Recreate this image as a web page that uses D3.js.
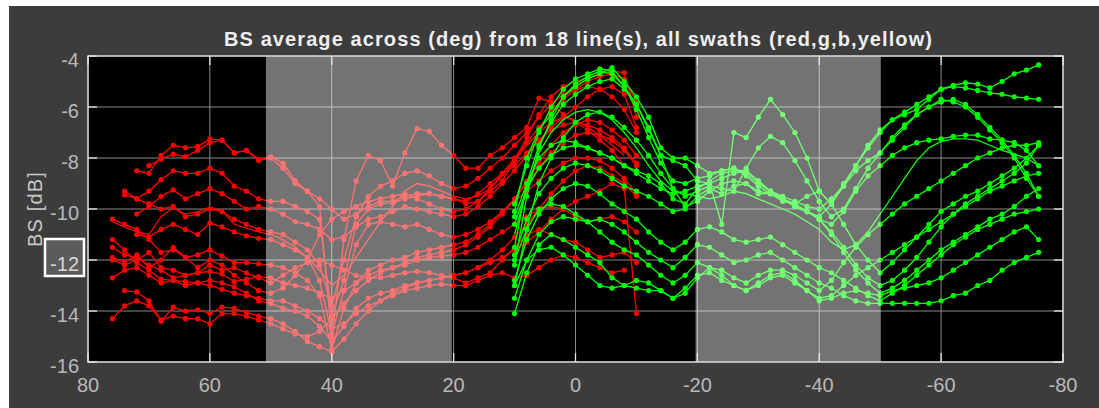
<!DOCTYPE html>
<html>
<head>
<meta charset="utf-8">
<script src="https://cdn.jsdelivr.net/npm/d3@7"></script>
<style>
  body { margin: 0; background: #ffffff; }
  text { font-family: "Liberation Sans", Arial, sans-serif; }
</style>
</head>
<body>
<script>
"use strict";

// across-track angles (deg) of the binned points, port swath (red) and starboard swath (green)
var redAngles = [76, 74, 72, 70, 68, 66, 64, 62, 60, 58, 56, 54, 52,
  50, 48, 46, 44, 42, 40, 38, 36, 34, 32, 30, 28, 26, 24, 22,
  20, 18, 16, 14, 12, 10, 8, 6, 4, 2, 0, -2, -4, -6, -8, -10];
var greenAngles = [10, 8, 6, 4, 2, 0, -2, -4, -6, -8, -10, -12, -14, -16, -18,
  -20, -22, -24, -26, -28, -30, -32, -34, -36, -38, -40, -42, -44, -46, -48,
  -50, -52, -54, -56, -58, -60, -62, -64, -66, -68, -70, -72, -74, -76];

// BS average per line (dB), one row per survey line
var redBS = [
  [null, null, -8.5, -8.6, -7.9, -7.5, -7.6, -7.55, -7.25, -7.3, -7.8, -7.7, -8.1,
   -8.0, -8.4, -9.0, -9.3, -9.9, -15.0, -11.2, -8.9, -7.9, -8.1, -9.1, -7.8, -6.85, -6.95, -7.5,
   -7.9, -8.4, -8.4, -7.9, -7.6, -7.2, -6.8, -5.65, -5.8, -6.3, -6.6, -6.9, -7.3, -7.7, -8.3, null],
  [null, null, null, -8.3, -8.05, -7.85, -7.95, -7.7, -7.4, -7.3, -7.8, -7.7, -8.05,
   -7.95, -8.2, -8.9, -9.3, -9.6, -10.0, -10.4, -10.2, -9.9, -9.7, -9.7, -9.5, -9.4, -9.4, -9.5,
   -9.6, -9.8, -9.7, -9.3, -8.9, -8.1, -7.2, -6.3, -5.6, -5.2, -5.0, -4.85, -4.7, -4.6, -4.65, -6.4],
  [null, -9.45, -9.6, -9.3, -8.85, -8.5, -8.6, -8.6, -8.4, -8.6, -9.1, -9.3, -9.6,
   -9.7, -9.7, -9.9, -10.1, -10.4, -14.2, -12.8, -10.6, -10.0, -9.8, -9.75, -9.6, -9.5, -9.4, -9.5,
   -9.6, -9.7, -9.4, -9.0, -8.6, -8.3, -7.8, -7.3, -6.8, -6.4, -6.0, -5.6, -5.3, -5.2, -5.5, -6.8],
  [null, null, -10.2, -9.9, -9.5, -9.25, -9.6, -9.4, -9.2, -9.4, -9.7, -10.0, -9.9,
   -10.0, -10.2, -10.5, -10.6, -10.8, -11.2, -11.1, -10.7, -10.4, -10.3, -10.1, -9.9, -10.0, -10.1, -10.2,
   -10.3, -10.2, -9.9, -9.5, -9.0, -8.5, -7.9, -7.3, -6.9, -6.7, -6.6, -6.7, -6.9, -7.2, -7.6, -8.2],
  [-10.5, -10.7, -10.9, -11.0, -10.3, -9.95, -10.2, -10.1, -9.93, -10.05, -10.6, -10.75, -10.9,
   -11.0, -11.2, -11.5, -11.9, -12.4, -13.0, -12.6, -11.9, -11.2, -10.5, -9.9, -9.3, -9.0, -9.1, -9.3,
   -9.5, -9.6, -9.5, -9.2, -8.7, -8.1, -7.5, -7.0, -6.6, -6.4, -6.5, -6.8, -7.1, -7.5, -7.9, null],
  [null, null, -11.0, -11.1, -10.8, -10.6, -10.8, -11.0, -10.55, -10.7, -10.9, -11.05, -11.15,
   -11.2, -11.4, -11.6, -11.9, -12.8, -14.9, -13.2, -11.4, -10.6, -10.5, -10.6, -10.7, -10.6, -10.8, -11.0,
   -11.1, -11.0, -10.8, -10.5, -10.1, -9.7, -9.3, -8.9, -8.5, -8.2, -8.0, -8.0, -8.1, -8.4, -8.8, -9.4],
  [-10.4, -10.6, -10.8, -11.2, -11.7, -11.6, -11.9, -11.8, -11.6, -11.85, -12.1, -12.1, -12.15,
   -12.2, -12.3, -12.5, -12.8, -13.4, -15.5, -13.9, -12.9, -12.4, -12.2, -12.0, -11.9, -11.7, -11.6, -11.5,
   -11.4, -11.3, -11.0, -10.6, -10.1, -9.6, -9.0, -8.4, -7.8, -7.4, -7.1, -7.0, -7.1, -7.3, -7.7, -8.3],
  [-11.2, -11.6, -12.1, -12.4, -12.75, -12.8, -12.85, -12.9, -12.8, -12.9, -13.05, -13.3, -13.6,
   -13.7, -13.9, -14.0, -14.2, -14.6, -15.2, -14.6, -13.9, -13.5, -13.3, -13.2, -13.0, -12.9, -12.8, -12.7,
   -12.6, -12.5, -12.3, -12.0, -11.6, -11.1, -10.6, -10.0, -9.4, -8.9, -8.5, -8.3, -8.4, -8.7, -9.0, -9.5],
  [-11.5, -11.8, -11.9, -12.2, -12.4, -12.7, -12.6, -12.5, -12.45, -12.55, -12.85, -12.75, -12.65,
   -12.7, -12.9, -13.0, -13.1, -13.3, -13.5, -13.2, -12.9, -12.6, -12.4, -12.3, -12.2, -12.0, -11.9, -11.85,
   -11.8, -11.7, -11.5, -11.2, -10.9, -10.6, -10.3, -10.0, -9.9, -10.0, -10.3, -10.5, -10.4, -10.3, -10.5, -10.9],
  [-12.0, -12.2, -12.0, -11.7, -12.3, -12.4, -12.6, -12.5, -12.2, -12.4, -12.3, -12.5, -12.7,
   -12.9, -12.6, -12.3, -12.1, -12.0, -12.2, -12.4, -12.6, -12.7, -12.7, -12.6, -12.5, -12.45, -12.5, -12.6,
   -12.7, -12.9, -12.7, -12.5, -12.0, -11.5, -11.0, -10.8, -11.0, -11.2, -11.3, -11.6, -11.9, -11.8, -11.7, -12.1],
  [-12.7, -12.4, -12.3, -12.6, -12.9, -12.8, -13.0, -12.9, -13.0, -13.15, -13.3, -13.4, -13.5,
   -13.6, -13.6, -13.8, -14.0, -14.3, -14.7, -14.5, -14.1, -13.8, -13.6, -13.4, -13.2, -13.1, -13.0, -12.95,
   -13.0, -13.0, -12.8, -12.6, -12.5, -12.7, -12.6, -12.3, -12.0, -11.8, -11.9, -12.1, -12.3, -12.5, -12.4, null],
  [null, -13.2, -13.25, -13.6, -14.4, -13.85, -14.0, -13.95, -14.1, -13.85, -13.9, -14.05, -14.2,
   -14.3, -14.5, -14.8, -15.2, -15.4, -15.6, -15.1, -14.5, -14.0, -13.6, -13.3, -13.1, -12.9, -12.8, -12.7,
   -12.6, -12.5, -12.3, -12.1, -11.9, -11.6, -11.3, -10.9, -10.4, -10.0, -9.7, -9.5, -9.3, -9.0, -9.2, -14.1],
  [-14.3, -13.8, -13.6, -13.8, -14.35, -14.2, -14.3, -14.3, -14.5, -14.1, -14.1, -14.2, -14.35,
   -14.5, -14.7, -14.9, -15.0, -14.8, -14.3, -13.7, -13.2, -12.8, -12.5, -12.3, -12.1, -11.9, -11.8, -11.7,
   -11.6, -11.4, -11.1, -10.7, -10.2, -9.6, -8.9, -8.2, -7.5, -7.0, -6.7, -6.5, -6.6, -6.9, -7.3, -7.9],
  [-11.9, -12.1, -11.8, -12.3, -12.0, -11.5, -11.9, -12.3, -12.0, -12.2, -12.6, -12.9, -13.2,
   -13.3, -13.1, -12.6, -12.0, -11.0, -10.4, -10.1, -9.9, -9.7, -9.6, -9.5, -9.4, -9.6, -9.8, -10.0,
   -10.1, -10.0, -9.7, -9.2, -8.6, -8.0, -7.4, -6.8, -6.2, -5.7, -5.3, -5.0, -4.8, -4.7, -4.9, -5.8],
  [null, -9.3, -9.6, -9.8, -10.0, -9.9, -10.3, -10.2, -10.0, -10.1, -10.4, -10.6, -10.8,
   -10.9, -11.0, -11.3, -11.6, -12.2, -13.8, -12.0, -10.3, -9.5, -9.1, -8.9, -8.6, -8.5, -8.7, -9.0,
   -9.2, -9.1, -8.8, -8.4, -8.0, -7.5, -7.0, -6.4, -5.9, -5.5, -5.3, -5.2, -5.3, -5.6, -6.1, -7.0]
];
var redThin = [4];   // line drawn without markers

var greenBS = [
  [-10.1, -8.0, -6.9, -6.3, -5.6, -5.2, -4.9, -4.7, -4.45, -5.0, -5.6, -6.4, -7.6, -8.0, -8.0,
   -8.3, -8.6, -8.5, -8.4, -8.7, -9.1, -9.4, -9.6, -9.9, -10.1, -10.4, -10.9, -11.5, -12.2, -12.7,
   -13.0, -12.8, -12.4, -11.9, -11.3, -10.7, -10.2, -9.8, -9.5, -9.2, -8.9, -8.6, -8.2, -7.5],
  [-11.5, -9.0, -7.5, -6.6, -5.9, -5.5, -5.2, -5.0, -4.9, -5.3, -5.9, -6.8, -7.9, -9.2, -9.9,
   -9.7, -9.3, -9.0, -8.9, -9.0, -9.3, -9.4, -9.6, -9.9, -10.1, -10.3, -9.8, -9.1, -8.3, -7.5,
   -6.9, -6.5, -6.3, -6.1, -5.7, -5.3, -5.15, -5.05, -5.1, -5.25, -5.0, -4.7, -4.55, -4.35],
  [-12.2, -9.5, -7.6, -6.5, -5.6, -5.1, -4.8, -4.6, -4.7, -5.2, -5.9, -6.9, -7.9, -8.1, -8.3,
   -8.9, -9.0, -10.6, -7.0, -7.2, -6.4, -5.7, -6.3, -7.0, -8.0, -9.3, -9.8, -9.0, -8.3, -7.6,
   -7.0, -6.5, -6.2, -5.9, -5.6, -5.3, -5.2, -5.25, -5.35, -5.45, -5.5, -5.6, -5.65, -5.7],
  [-13.0, -10.8, -9.0, -8.0, -7.2, -6.6, -6.3, -6.2, -6.4, -6.8, -7.3, -7.9, -8.6, -9.2, -9.5,
   -9.3, -9.1, -9.2, -9.3, -8.4, -7.6, -7.15, -7.4, -8.1, -8.9, -9.7, -10.3, -10.0, -9.2, -8.4,
   -7.8, -7.3, -6.8, -6.3, -6.0, -5.7, -5.8, -6.0, -6.4, -6.9, -7.4, -8.0, -8.8, -9.5],
  [-11.0, -9.2, -7.8, -7.0, -6.5, -6.2, -6.1, -6.2, -6.5, -7.0, -7.6, -8.3, -8.9, -9.3, -9.4,
   -9.5, -9.6, -9.5, -9.3, -9.4, -9.6, -9.8, -10.0, -10.2, -10.5, -10.8, -11.3, -11.6, -11.4, -10.9,
   -10.2, -9.5, -8.8, -8.1, -7.6, -7.35, -7.25, -7.25, -7.3, -7.5, -7.7, -7.85, -8.0, -8.3],
  [-10.6, -9.2, -8.4, -7.9, -7.6, -7.5, -7.6, -7.8, -8.0, -8.3, -8.6, -8.9, -9.2, -9.4, -9.3,
   -9.1, -9.0, -8.8, -8.6, -8.5, -8.9, -9.3, -9.6, -9.8, -10.1, -10.4, -10.6, -10.1, -9.3, -8.7,
   -8.3, -7.9, -7.6, -7.4, -7.3, -7.25, -7.15, -7.1, -7.1, -7.25, -7.3, -7.4, -7.7, -8.3],
  [-11.8, -10.4, -9.4, -8.8, -8.4, -8.2, -8.3, -8.5, -8.8, -9.1, -9.3, -9.5, -9.8, -10.1, -10.0,
   -9.5, -9.2, -9.4, -9.1, -9.0, -9.4, -9.4, -9.7, -9.8, -9.5, -9.3, -9.8, -10.6, -11.4, -12.0,
   -12.5, -12.1, -11.6, -11.1, -10.6, -10.1, -9.8, -9.5, -9.3, -9.0, -8.7, -8.4, -8.0, -7.5],
  [-10.3, -9.0, -8.0, -7.5, -7.3, -7.4, -7.6, -7.8, -8.0, -8.3, -8.5, -8.7, -9.0, -9.6, -9.8,
   -9.2, -8.9, -8.6, -8.5, -8.5, -8.9, -9.3, -9.6, -9.9, -10.1, -10.4, -11.0, -11.7, -12.4, -12.9,
   -13.3, -13.1, -12.8, -12.4, -12.0, -11.6, -11.3, -11.0, -10.7, -10.4, -10.2, -9.9, -9.5, -9.2],
  [-12.8, -11.2, -10.2, -9.6, -9.2, -9.0, -9.1, -9.4, -9.8, -10.1, -10.4, -10.9, -11.3, -11.6, -11.3,
   -10.8, -10.7, -10.9, -11.2, -11.3, -11.2, -11.1, -11.4, -11.7, -12.0, -12.3, -12.5, -12.8, -13.1, -13.4,
   -13.6, -13.3, -13.0, -12.6, -12.2, -11.8, -11.4, -11.1, -10.8, -10.6, -10.4, -10.2, -10.1, -10.0],
  [-13.5, -12.0, -11.0, -10.5, -10.3, -10.4, -10.5, -10.4, -10.6, -10.9, -11.3, -11.7, -12.0, -12.3, -11.9,
   -11.4, -11.5, -11.8, -12.1, -12.0, -11.8, -11.7, -12.0, -12.3, -12.6, -12.9, -13.1, -13.4, -13.6, -13.7,
   -13.7, -13.7, -13.7, -13.7, -13.7, -13.6, -13.4, -13.3, -13.0, -12.8, -12.4, -12.1, -11.9, -11.7],
  [-14.1, -12.5, -11.4, -11.0, -11.2, -11.5, -11.8, -12.1, -12.7, -13.0, -13.1, -13.2, -13.2, -13.5, -13.1,
   -12.6, -12.5, -12.8, -13.0, -13.2, -12.9, -12.6, -12.5, -12.8, -13.2, -13.6, -13.5, -13.3, -13.2, -13.3,
   -13.4, -13.2, -13.1, -13.0, -12.9, -12.7, -12.4, -12.1, -11.8, -11.5, -11.2, -10.9, -10.7, -11.2],
  [-12.0, -10.8, -10.0, -9.8, -9.9, -10.2, -10.5, -10.9, -11.3, -11.6, -11.8, -12.2, -12.6, -12.9, -12.6,
   -12.1, -12.3, -12.6, -13.0, -13.2, -13.0, -12.7, -12.6, -12.9, -13.2, -13.5, -13.4, -13.0, -12.6, -12.3,
   -12.0, -11.7, -11.4, -11.1, -10.8, -10.5, -10.2, -9.9, -9.6, -9.3, -9.1, -8.9, -8.7, -8.6],
  [-9.8, -8.3, -7.0, -6.0, -5.3, -4.9, -4.7, -4.5, -4.6, -5.2, -6.1, -7.2, -8.2, -8.9, -9.0,
   -8.8, -8.7, -8.5, -8.4, -8.6, -9.0, -9.3, -9.5, -9.7, -9.9, -10.0, -9.6, -9.1, -8.5, -8.1,
   -7.8, -7.2, -6.7, -6.3, -6.0, -5.8, -5.7, -5.9, -6.3, -6.8, -7.3, -7.9, -8.6, -9.5],
  [-13.0, -12.0, -11.6, -11.5, -11.8, -12.2, -12.6, -13.0, -13.1, -13.0, -12.8, -12.9, -13.2, -13.5, -13.3,
   -12.7, -12.3, -12.4, -12.7, -12.9, -12.6, -12.4, -12.4, -12.6, -12.9, -13.2, -12.8, -12.1, -11.5, -11.0,
   -10.6, -10.2, -9.8, -9.5, -9.2, -8.9, -8.6, -8.3, -8.0, -7.8, -7.6, -7.5, -7.5, -7.4]
];
var greenThin = [4];

// shaded sectors (deg) and axis ticks
var sectors = [[50.8, 20.3], [-19.7, -50.1]];
var xTicks = [80, 60, 40, 20, 0, -20, -40, -60, -80];
var yTicks = [-16, -14, -12, -10, -8, -6, -4];

var title = "BS average across (deg) from 18 line(s), all swaths (red,g,b,yellow)";

function draw() {
  var W = 1099, H = 408;
  var pl = 88, pr = 1063, pt = 56, pb = 362;

  var svg = d3.select("body").append("svg")
    .attr("width", W).attr("height", H);

  // figure background
  svg.append("rect").attr("x", 9).attr("y", 6).attr("width", W - 9).attr("height", H - 6)
    .attr("fill", "#3c3c3c");

  var x = d3.scaleLinear().domain([80, -80]).range([pl, pr]);
  var y = d3.scaleLinear().domain([-16, -4]).range([pb, pt]);

  svg.append("rect").attr("x", pl).attr("y", pt)
    .attr("width", pr - pl).attr("height", pb - pt).attr("fill", "#000");

  // grid
  var grid = svg.append("g");
  grid.selectAll(null).data(xTicks).enter().append("line")
    .attr("x1", d => x(d)).attr("x2", d => x(d)).attr("y1", pt).attr("y2", pb)
    .attr("stroke", "#8a8a8a").attr("stroke-width", 1);
  grid.selectAll(null).data(yTicks).enter().append("line")
    .attr("y1", d => y(d)).attr("y2", d => y(d)).attr("x1", pl).attr("x2", pr)
    .attr("stroke", "#8a8a8a").attr("stroke-width", 1);

  var line = d3.line()
    .defined(d => d[1] !== null)
    .x(d => x(d[0])).y(d => y(d[1]));

  function drawSwath(angles, rows, thin, color) {
    var g = svg.append("g");
    rows.forEach(function (row, i) {
      var pts = row.map((v, k) => [angles[k], v]);
      g.append("path").datum(pts)
        .attr("d", line)
        .attr("fill", "none")
        .attr("stroke", color)
        .attr("stroke-width", 1.3);
      if (thin.indexOf(i) < 0) {
        g.selectAll(null).data(pts.filter(p => p[1] !== null)).enter().append("circle")
          .attr("cx", d => x(d[0])).attr("cy", d => y(d[1]))
          .attr("r", 2.6).attr("fill", color);
      }
    });
  }

  drawSwath(redAngles, redBS, redThin, "#ff0000");
  drawSwath(greenAngles, greenBS, greenThin, "#00ff00");

  // translucent sector patches on top of the data
  svg.selectAll(null).data(sectors).enter().append("rect")
    .attr("x", d => x(d[0])).attr("width", d => x(d[1]) - x(d[0]))
    .attr("y", pt).attr("height", pb - pt)
    .attr("fill", "#ffffff").attr("fill-opacity", 0.45);

  // axes box and inward ticks
  svg.append("rect").attr("x", pl).attr("y", pt)
    .attr("width", pr - pl).attr("height", pb - pt)
    .attr("fill", "none").attr("stroke", "#cfcfcf").attr("stroke-width", 1.5);

  var tl = 9;
  var ticks = svg.append("g").attr("stroke", "#e6e6e6").attr("stroke-width", 1.3);
  xTicks.forEach(function (t) {
    ticks.append("line").attr("x1", x(t)).attr("x2", x(t)).attr("y1", pb).attr("y2", pb - tl);
    ticks.append("line").attr("x1", x(t)).attr("x2", x(t)).attr("y1", pt).attr("y2", pt + tl);
  });
  yTicks.forEach(function (t) {
    ticks.append("line").attr("y1", y(t)).attr("y2", y(t)).attr("x1", pl).attr("x2", pl + tl);
    ticks.append("line").attr("y1", y(t)).attr("y2", y(t)).attr("x1", pr).attr("x2", pr - tl);
  });

  // highlighted tick label box
  svg.append("rect").attr("x", 45).attr("y", 239).attr("width", 39).attr("height", 37)
    .attr("fill", "#5b5b5b").attr("stroke", "#ffffff").attr("stroke-width", 2.5);

  // tick labels
  svg.selectAll(null).data(xTicks).enter().append("text")
    .attr("x", d => x(d)).attr("y", 392)
    .attr("text-anchor", "middle")
    .attr("font-size", 20).attr("fill", "#b9b9b9")
    .text(d => d);
  svg.selectAll(null).data(yTicks).enter().append("text")
    .attr("x", 79).attr("y", d => y(d) + 11)
    .attr("text-anchor", "end")
    .attr("font-size", 20).attr("fill", d => d === -12 ? "#d8d8d8" : "#b9b9b9")
    .text(d => d);

  svg.append("text")
    .attr("transform", "translate(42," + ((pt + pb) / 2) + ") rotate(-90)")
    .attr("text-anchor", "middle")
    .attr("font-size", 20).attr("letter-spacing", 1.2).attr("fill", "#c8c8c8")
    .text("BS [dB]");

  svg.append("text")
    .attr("x", 224).attr("y", 46)
    .attr("textLength", 708).attr("lengthAdjust", "spacing")
    .attr("font-size", 20).attr("font-weight", "bold").attr("fill", "#eeeeee")
    .text(title);
}

draw();
</script>
</body>
</html>
